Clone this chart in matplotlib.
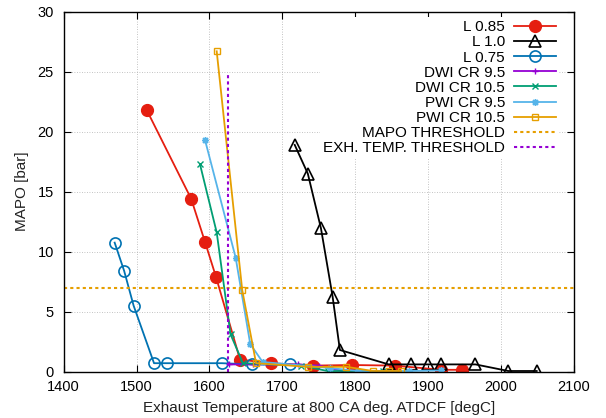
import matplotlib
matplotlib.use("Agg")
import matplotlib.pyplot as plt

plt.rcParams['font.family'] = ['Liberation Sans', 'DejaVu Sans']

# MAPO vs exhaust temperature for each operating strategy
l085_t = [1514, 1575, 1594, 1609, 1642, 1685, 1742, 1795, 1854, 1918, 1947]
l085_p = [21.8, 14.4, 10.8, 7.9, 1.0, 0.7, 0.5, 0.55, 0.5, 0.15, 0.15]

l10_t = [1717, 1735, 1753, 1769, 1779, 1846, 1876, 1900, 1918, 1965, 2010, 2049]
l10_p = [18.9, 16.5, 11.95, 6.25, 1.8, 0.6, 0.6, 0.6, 0.6, 0.6, 0.05, 0.05]

l075_t = [1470, 1483, 1496, 1524, 1542, 1617, 1658, 1710]
l075_p = [10.75, 8.4, 5.5, 0.7, 0.7, 0.7, 0.6, 0.6]

dwi95_t = [1627, 1660, 1722, 1751, 1783]
dwi95_p = [0.6, 0.6, 0.6, 0.5, 0.05]

dwi105_t = [1587, 1610, 1629, 1646, 1726, 1762, 1838]
dwi105_p = [17.3, 11.6, 3.1, 0.7, 0.5, 0.05, 0.05]

pwi95_t = [1594, 1636, 1656, 1673, 1765, 1804, 1874, 1918]
pwi95_p = [19.3, 9.5, 2.3, 0.8, 0.3, 0.05, 0.05, 0.1]

pwi105_t = [1610, 1645, 1664, 1735, 1788, 1824, 1847, 1863]
pwi105_p = [26.7, 6.8, 0.7, 0.4, 0.4, 0.05, 0.05, 0.05]

mapo_threshold = 7.0
exh_threshold = 1625
exh_threshold_top = 25

x_ticks = [1400, 1500, 1600, 1700, 1800, 1900, 2000, 2100]
y_ticks = [0, 5, 10, 15, 20, 25, 30]

fig = plt.figure(figsize=(6.06, 4.18), dpi=100)
ax = fig.add_axes([0.105, 0.111, 0.842, 0.861])

lw = 1.3
ax.plot(l085_t, l085_p, color='#e51e10', lw=lw, marker='o', ms=8.5,
        label='L 0.85')
ax.plot(l10_t, l10_p, color='black', lw=lw, marker='^', ms=9, mfc='none',
        mew=1.2, label='L 1.0')
ax.plot(l075_t, l075_p, color='#0072b2', lw=lw, marker='o', ms=8, mfc='none',
        mew=1.2, label='L 0.75')
ax.plot(dwi95_t, dwi95_p, color='#9400d3', lw=lw, marker='+', ms=5,
        mew=1.0, label='DWI CR 9.5')
ax.plot(dwi105_t, dwi105_p, color='#009e73', lw=lw, marker='x', ms=4,
        mew=1.0, label='DWI CR 10.5')
ax.plot(pwi95_t, pwi95_p, color='#56b4e9', lw=lw, marker=(8, 2, 0), ms=5,
        mew=1.0, label='PWI CR 9.5')
ax.plot(pwi105_t, pwi105_p, color='#e69f00', lw=lw, marker='s', ms=4.5,
        mfc='none', mew=1.0, label='PWI CR 10.5')
ax.plot([x_ticks[0], x_ticks[-1]], [mapo_threshold, mapo_threshold],
        color='#e69f00', lw=1.5, dashes=(1.5, 1.5),
        label='MAPO THRESHOLD')
ax.plot([exh_threshold, exh_threshold], [0, exh_threshold_top],
        color='#9400d3', lw=1.5, dashes=(1.5, 1.5),
        label='EXH. TEMP. THRESHOLD')

ax.set_xlim(1400, 2100)
ax.set_ylim(0, 30)
ax.set_xticks(x_ticks)
ax.set_yticks(y_ticks)
ax.tick_params(direction='in', top=True, right=True, length=5, width=0.8,
               labelsize=10.5)
ax.tick_params(axis='y', pad=7)
ax.tick_params(axis='x', pad=6)
for s in ax.spines.values():
    s.set_linewidth(1.0)
ax.grid(True, color='#b0b0b0', lw=0.6, linestyle=(0, (1, 2)))
ax.set_axisbelow(True)

ax.set_xlabel('Exhaust Temperature at 800 CA deg. ATDCF [degC]', fontsize=11,
              color='#222222', labelpad=5)
ax.set_ylabel('MAPO [bar]', fontsize=11, color='#222222', labelpad=6)

leg = ax.legend(loc='upper right', bbox_to_anchor=(0.985, 1.006),
                markerfirst=False, alignment='right', frameon=True,
                fancybox=False, edgecolor='none', facecolor='white',
                framealpha=1.0, fontsize=11, handlelength=2.75,
                handletextpad=0.55, labelspacing=0.075, borderpad=0.2)
for t in leg.get_texts():
    t.set_ha('right')
leg._legend_box.align = 'right'

fig.savefig('out.png', dpi=100)
